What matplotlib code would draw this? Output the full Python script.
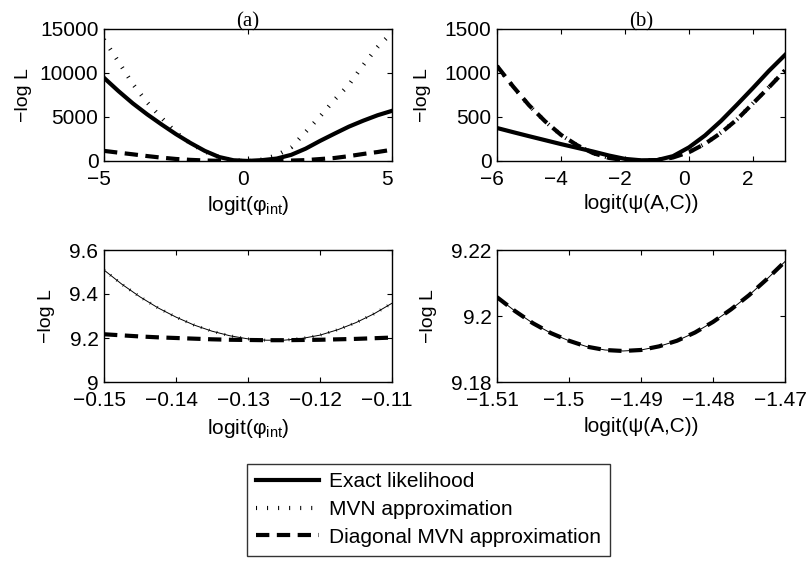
import numpy as np
import matplotlib
matplotlib.use("Agg")
import matplotlib.pyplot as plt
import matplotlib.transforms as mtransforms

plt.rcParams['font.family'] = ['Liberation Sans', 'DejaVu Sans']
plt.rcParams['mathtext.fontset'] = 'custom'
plt.rcParams['mathtext.rm'] = 'Liberation Sans'
plt.rcParams['mathtext.it'] = 'Liberation Sans:italic'

# ---- data ----
# (a) top: logit(phi_int) from -5 to 5
xa = [-5, -4.5, -4, -3.5, -3, -2.5, -2, -1.5, -1, -0.5, 0,
      0.5, 1, 1.5, 2, 2.5, 3, 3.5, 4, 4.5, 5]
exact_a = [9450, 7950, 6550, 5300, 4150, 3050, 2050, 1150, 450, 80, 5,
           100, 280, 700, 1400, 2280, 3100, 3900, 4580, 5200, 5700]
mvn_a = [13800, 11300, 8750, 6650, 4900, 3250, 2000, 1080, 440, 90, 5,
         170, 650, 1550, 3300, 5050, 6950, 8650, 10900, 12950, 14600]
diag_a = [1150, 950, 760, 560, 380, 230, 130, 60, 20, 5, 0,
          5, 20, 50, 100, 220, 340, 550, 800, 1020, 1280]

# (b) top: logit(psi(A,C)) from -6 to 3
xb = [-6, -5.5, -5, -4.5, -4, -3.5, -3, -2.5, -2, -1.5, -1,
      -0.5, 0, 0.5, 1, 1.5, 2, 2.5, 3]
exact_b = [375, 328, 282, 237, 192, 150, 108, 62, 24, 8, 10,
           55, 155, 290, 455, 640, 830, 1025, 1205]
mvn_b = [1075, 845, 632, 450, 296, 180, 90, 35, 8, 2, 12,
         42, 102, 197, 322, 474, 657, 840, 1032]
diag_b = [1080, 848, 634, 452, 297, 180, 90, 35, 8, 2, 10,
          40, 100, 195, 320, 472, 655, 838, 1030]

# (a) bottom: zoom around the minimum
xc = [-0.15, -0.1475, -0.145, -0.1425, -0.14, -0.1375, -0.135, -0.1325, -0.13,
      -0.1275, -0.125, -0.1225, -0.12, -0.1175, -0.115, -0.1125, -0.11]
exact_c = [9.509, 9.444, 9.387, 9.337, 9.295, 9.259, 9.231, 9.210, 9.196,
           9.190, 9.190, 9.198, 9.213, 9.238, 9.270, 9.310, 9.358]
mvn_c = exact_c
diag_c = [9.217, 9.212, 9.207, 9.203, 9.200, 9.197, 9.194, 9.192, 9.191,
          9.190, 9.190, 9.191, 9.192, 9.194, 9.196, 9.199, 9.202]

# (b) bottom: zoom around the minimum
xd = [-1.51, -1.5075, -1.505, -1.5025, -1.5, -1.4975, -1.495, -1.4925, -1.49,
      -1.4875, -1.485, -1.4825, -1.48, -1.4775, -1.475, -1.4725, -1.47]
exact_d = [9.2057, 9.2015, 9.1978, 9.1948, 9.1925, 9.1907, 9.1897, 9.1894, 9.1897,
           9.1908, 9.1925, 9.1950, 9.1982, 9.2020, 9.2063, 9.2112, 9.2165]
diag_d = exact_d

M = '\u2212'
W, H = 806, 562
FS = 15
fig = plt.figure(figsize=(W / 100, H / 100), dpi=100)


def make_ax(l, t, r, b):
    ax = fig.add_axes([l / W, 1 - b / H, (r - l) / W, (b - t) / H])
    ax.tick_params(direction='in', top=True, right=True, length=3.5,
                   width=0.8, labelsize=FS)
    ax.tick_params(axis='x', pad=6.5)
    ax.tick_params(axis='y', pad=4)
    for s in ax.spines.values():
        s.set_linewidth(1.0)
    return ax


def mvn_line(ax, x, y, lw, label=None):
    line, = ax.plot(x, y, color='k', lw=lw, label=label,
                    dash_capstyle='butt', solid_joinstyle='miter')
    line.set_dashes([0.25, 2.4])
    return line


def diag_line(ax, x, y, label=None):
    line, = ax.plot(x, y, color='k', lw=3.0, label=label, dash_capstyle='butt')
    line.set_dashes([3.2, 1.8])
    return line


axes = [make_ax(104, 29, 392, 161), make_ax(497, 29, 785, 161),
        make_ax(104, 250, 392, 382), make_ax(497, 250, 785, 382)]

# top left
ax = axes[0]
h1, = ax.plot(xa, exact_a, color='k', lw=3.0, label='Exact likelihood')
h2 = mvn_line(ax, xa, mvn_a, 3.0, 'MVN approximation')
h3 = diag_line(ax, xa, diag_a, 'Diagonal MVN approximation')
ax.set_xlim(-5, 5)
ax.set_ylim(0, 15000)
ax.set_xticks([-5, 0, 5])
ax.set_xticklabels([M + '5', '0', '5'])
ax.set_yticks([0, 5000, 10000, 15000])
ax.set_yticklabels(['0', '5000', '10000', '15000'])
ax.set_title('(a)', family='Liberation Serif', fontsize=FS, pad=2)

# top right
ax = axes[1]
ax.plot(xb, exact_b, color='k', lw=3.0)
diag_line(ax, xb, diag_b)
mvn_line(ax, xb, mvn_b, 3.0)
ax.set_xlim(-6, 3)
ax.set_ylim(0, 1500)
ax.set_xticks([-6, -4, -2, 0, 2])
ax.set_xticklabels([M + '6', M + '4', M + '2', '0', '2'])
ax.set_yticks([0, 500, 1000, 1500])
ax.set_yticklabels(['0', '500', '1000', '1500'])
ax.set_title('(b)', family='Liberation Serif', fontsize=FS, pad=2)

# bottom left
ax = axes[2]
diag_line(ax, xc, diag_c)
ax.plot(xc, exact_c, color='k', lw=0.7)
mvn_line(ax, xc, mvn_c, 2.2)
ax.set_xlim(-0.15, -0.11)
ax.set_ylim(9, 9.6)
ax.set_xticks([-0.15, -0.14, -0.13, -0.12, -0.11])
ax.set_xticklabels([M + '0.15', M + '0.14', M + '0.13', M + '0.12', M + '0.11'])
ax.set_yticks([9, 9.2, 9.4, 9.6])
ax.set_yticklabels(['9', '9.2', '9.4', '9.6'])

# bottom right
ax = axes[3]
ax.plot(xd, exact_d, color='k', lw=0.7)
diag_line(ax, xd, diag_d)
ax.set_xlim(-1.51, -1.47)
ax.set_ylim(9.18, 9.22)
ax.set_xticks([-1.51, -1.5, -1.49, -1.48, -1.47])
ax.set_xticklabels([M + '1.51', M + '1.5', M + '1.49', M + '1.48', M + '1.47'])
ax.set_yticks([9.18, 9.2, 9.22])
ax.set_yticklabels(['9.18', '9.2', '9.22'])

# label placement (axes coords), as in the original
ylab_x = [-0.25, -0.228, -0.17, -0.208]
shift = mtransforms.ScaledTranslation(-5 / 100, 0, fig.dpi_scale_trans)
for i, ax in enumerate(axes):
    ax.set_ylabel(M + 'log L', fontsize=14)
    ax.yaxis.set_label_coords(ylab_x[i], 0.5)
    if i % 2 == 0:
        ax.set_xlabel(r'logit($\mathrm{φ}_{\mathrm{int}}$)', fontsize=FS)
    else:
        ax.set_xlabel('logit(ψ(A,C))', fontsize=FS)
    ax.xaxis.set_label_coords(0.5, -0.25 if i < 2 else -0.265)
    for t in ax.get_xticklabels():
        t.set_transform(t.get_transform() + shift)

leg = fig.legend([h1, h2, h3],
                 ['Exact likelihood', 'MVN approximation', 'Diagonal MVN approximation'],
                 loc='center', bbox_to_anchor=(428.5 / W, 1 - 509.5 / H),
                 fontsize=15, frameon=True, fancybox=False, handlelength=3.0,
                 handletextpad=0.5, labelspacing=0.42, borderpad=0.42,
                 borderaxespad=0)
leg.get_frame().set_edgecolor('k')
leg.get_frame().set_linewidth(1.0)

fig.savefig('out.png', dpi=100)
